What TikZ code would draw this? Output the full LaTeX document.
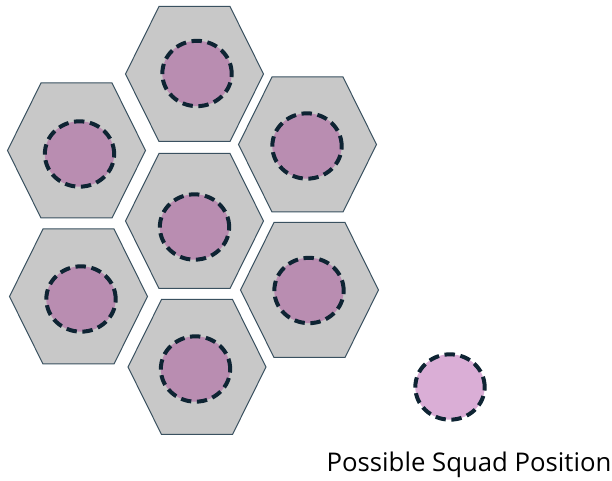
\documentclass[tikz,border=0pt]{standalone}
\usepackage{fontspec}
\setmainfont{Open Sans}
\usepackage{xcolor}
\usepackage{tikz}
\usetikzlibrary{shapes.geometric}

\definecolor{hexgray}{HTML}{C8C8C8}
\definecolor{hexline}{HTML}{3A5160}
\definecolor{squadfill}{HTML}{B98DB1}
\definecolor{legendfill}{HTML}{DAAED6}
\definecolor{dashnavy}{HTML}{0E2433}

\begin{document}
\begin{tikzpicture}[x=0.75pt, y=-0.75pt,
  hexcell/.style={fill=hexgray, draw=hexline, line width=0.75pt},
  squad/.style={ellipse, draw=dashnavy, fill=squadfill, line width=3pt, dash pattern=on 7.8pt off 4.2pt, minimum width=52pt, minimum height=49pt, inner sep=0pt},
  every node/.style={font=\fontsize{19.3}{23}\selectfont}]
\useasboundingbox (0,0) rectangle (612,481);

% hexagon cells
\draw[hexcell, shift={(194.5,74)}] (-69,0) -- (-35.5,-67.5) -- (35.5,-67.5) -- (69,0) -- (35.5,67.5) -- (-35.5,67.5) -- cycle;
\draw[hexcell, shift={(76.5,150.5)}] (-69,0) -- (-35.5,-67.5) -- (35.5,-67.5) -- (69,0) -- (35.5,67.5) -- (-35.5,67.5) -- cycle;
\draw[hexcell, shift={(307.5,144.5)}] (-69,0) -- (-35.5,-67.5) -- (35.5,-67.5) -- (69,0) -- (35.5,67.5) -- (-35.5,67.5) -- cycle;
\draw[hexcell, shift={(194.5,221)}] (-69,0) -- (-35.5,-67.5) -- (35.5,-67.5) -- (69,0) -- (35.5,67.5) -- (-35.5,67.5) -- cycle;
\draw[hexcell, shift={(78.5,296.5)}] (-69,0) -- (-35.5,-67.5) -- (35.5,-67.5) -- (69,0) -- (35.5,67.5) -- (-35.5,67.5) -- cycle;
\draw[hexcell, shift={(309.5,290)}] (-69,0) -- (-35.5,-67.5) -- (35.5,-67.5) -- (69,0) -- (35.5,67.5) -- (-35.5,67.5) -- cycle;
\draw[hexcell, shift={(197,367)}] (-69,0) -- (-35.5,-67.5) -- (35.5,-67.5) -- (69,0) -- (35.5,67.5) -- (-35.5,67.5) -- cycle;

% squad positions
\node[squad] (sqtop) at (197,73.5) {};
\node[squad] (squpleft) at (79.5,154) {};
\node[squad] (squpright) at (307,146) {};
\node[squad] (sqmid) at (194.5,227) {};
\node[squad] (sqlowleft) at (81,299) {};
\node[squad] (sqlowright) at (309,290.5) {};
\node[squad] (sqbottom) at (195.5,369) {};

% legend
\node[squad, fill=legendfill] (legend) at (450,387) {};
\node[anchor=base] (legendtext) at (469,472) {Possible Squad Position};
\end{tikzpicture}
\end{document}
